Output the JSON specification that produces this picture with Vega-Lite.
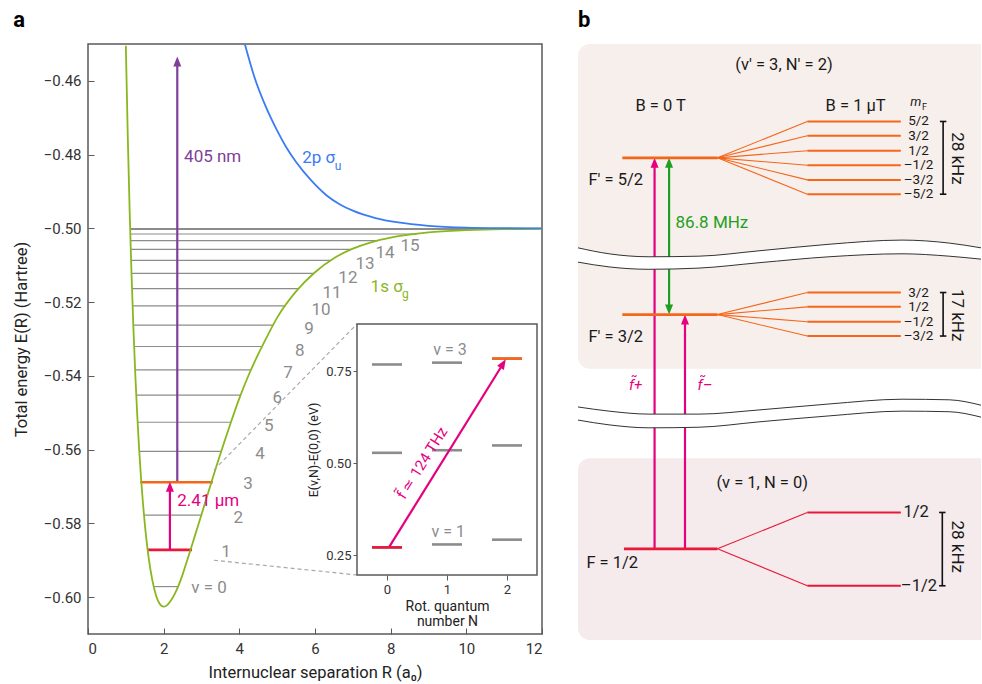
{
"$schema": "https://vega.github.io/schema/vega-lite/v6.json",
"padding": {"left": 12, "top": 8, "right": 0, "bottom": 0},
"background": "white",
"bounds": "flush",
"spacing": 36,
"config": {
  "font": "Roboto",
  "view": {"stroke": null},
  "axis": {"grid": false, "domain": false, "labelColor": "#333333", "titleColor": "#222222", "tickColor": "#5a5a5a", "titleFontWeight": "normal", "labelFont": "Roboto", "titleFont": "Roboto"},
  "text": {"font": "Roboto"},
  "title": {"font": "Roboto"}
},
"datasets": {
  "curve_g": [
    {"R":1.0,"E":-0.4505},{"R":1.05,"E":-0.4745},{"R":1.1,"E":-0.495},{"R":1.15,"E":-0.5123},{"R":1.2,"E":-0.527},{"R":1.25,"E":-0.5396},{"R":1.3,"E":-0.5504},{"R":1.35,"E":-0.5596},{"R":1.4,"E":-0.5675},{"R":1.45,"E":-0.5742},{"R":1.5,"E":-0.58},{"R":1.55,"E":-0.5849},{"R":1.6,"E":-0.5891},{"R":1.7,"E":-0.5954},{"R":1.8,"E":-0.5996},{"R":1.9,"E":-0.6019},{"R":2.0,"E":-0.6026},{"R":2.1,"E":-0.6021},{"R":2.2,"E":-0.6008},{"R":2.3,"E":-0.599},{"R":2.4,"E":-0.5967},{"R":2.5,"E":-0.5939},{"R":2.6,"E":-0.5907},{"R":2.7,"E":-0.5875},{"R":2.8,"E":-0.5842},{"R":2.9,"E":-0.5809},{"R":3.0,"E":-0.5776},{"R":3.2,"E":-0.5709},{"R":3.4,"E":-0.5643},{"R":3.6,"E":-0.558},{"R":3.8,"E":-0.5519},{"R":4.0,"E":-0.5461},{"R":4.25,"E":-0.5397},{"R":4.5,"E":-0.5341},{"R":4.75,"E":-0.529},{"R":5.0,"E":-0.5242},{"R":5.5,"E":-0.5171},{"R":6.0,"E":-0.5119},{"R":6.5,"E":-0.5081},{"R":7.0,"E":-0.5055},{"R":7.5,"E":-0.5037},{"R":8.0,"E":-0.5025},{"R":9.0,"E":-0.5011},{"R":10.0,"E":-0.5005},{"R":11.0,"E":-0.5002},{"R":12.0,"E":-0.5001}
  ],
  "curve_u": [
    {"R":4.15,"E":-0.4502},{"R":4.4,"E":-0.459},{"R":4.7,"E":-0.467},{"R":5.0,"E":-0.4735},{"R":5.24,"E":-0.478},{"R":5.5,"E":-0.482},{"R":5.9,"E":-0.487},{"R":6.3,"E":-0.491},{"R":6.66,"E":-0.4935},{"R":7.0,"E":-0.4952},{"R":7.6,"E":-0.4972},{"R":8.2,"E":-0.4984},{"R":9.0,"E":-0.4993},{"R":10.0,"E":-0.4998},{"R":11.0,"E":-0.49995},{"R":12.0,"E":-0.5}
  ],
  "levels": [
    {"v":0,"R1":1.741,"R2":2.38,"E":-0.59714},
    {"v":1,"R1":1.577,"R2":2.709,"E":-0.5872},
    {"v":2,"R1":1.481,"R2":2.995,"E":-0.57778},
    {"v":3,"R1":1.41,"R2":3.26,"E":-0.56886},
    {"v":4,"R1":1.355,"R2":3.52,"E":-0.56046},
    {"v":5,"R1":1.312,"R2":3.78,"E":-0.55257},
    {"v":6,"R1":1.276,"R2":4.035,"E":-0.5452},
    {"v":7,"R1":1.245,"R2":4.31,"E":-0.53836},
    {"v":8,"R1":1.22,"R2":4.6,"E":-0.53204},
    {"v":9,"R1":1.197,"R2":4.89,"E":-0.52626},
    {"v":10,"R1":1.18,"R2":5.22,"E":-0.52103},
    {"v":11,"R1":1.164,"R2":5.57,"E":-0.51635},
    {"v":12,"R1":1.15,"R2":5.97,"E":-0.51223},
    {"v":13,"R1":1.14,"R2":6.42,"E":-0.50868},
    {"v":14,"R1":1.13,"R2":6.96,"E":-0.50571},
    {"v":15,"R1":1.123,"R2":7.66,"E":-0.50332},
    {"v":16,"R1":1.118,"R2":8.7,"E":-0.50152},
    {"v":17,"R1":1.114,"R2":10.6,"E":-0.50031},
    {"v":18,"R1":1.113,"R2":12.0,"E":-0.50004}
  ],
  "vlabels": [
    {"R":3.2,"E":-0.5975,"t":"v = 0"},
    {"R":3.65,"E":-0.5878,"t":"1"},
    {"R":3.97,"E":-0.5785,"t":"2"},
    {"R":4.23,"E":-0.5693,"t":"3"},
    {"R":4.55,"E":-0.5612,"t":"4"},
    {"R":4.78,"E":-0.5536,"t":"5"},
    {"R":5.0,"E":-0.546,"t":"6"},
    {"R":5.29,"E":-0.5392,"t":"7"},
    {"R":5.6,"E":-0.5333,"t":"8"},
    {"R":5.84,"E":-0.5273,"t":"9"},
    {"R":6.16,"E":-0.5221,"t":"10"},
    {"R":6.45,"E":-0.5175,"t":"11"},
    {"R":6.87,"E":-0.5135,"t":"12"},
    {"R":7.32,"E":-0.5097,"t":"13"},
    {"R":7.85,"E":-0.5067,"t":"14"},
    {"R":8.51,"E":-0.5048,"t":"15"}
  ],
  "inset_lev": [
    {"N1":-0.25,"N2":0.25,"eV":0.271},{"N1":0.75,"N2":1.25,"eV":0.279},{"N1":1.75,"N2":2.25,"eV":0.292},
    {"N1":-0.25,"N2":0.25,"eV":0.528},{"N1":0.75,"N2":1.25,"eV":0.535},{"N1":1.75,"N2":2.25,"eV":0.548},
    {"N1":-0.25,"N2":0.25,"eV":0.768},{"N1":0.75,"N2":1.25,"eV":0.773},{"N1":1.75,"N2":2.25,"eV":0.784}
  ],
  "bands": [
    {"band":1,"x":0,"top":65.8,"bot":63.4},{"band":1,"x":7.7,"top":64.8,"bot":62.6},{"band":1,"x":17.6,"top":64.3,"bot":62.2},{"band":1,"x":30.0,"top":64.4,"bot":62.4},{"band":1,"x":44.9,"top":65.3,"bot":63.3},{"band":1,"x":62.3,"top":66.4,"bot":64.3},{"band":1,"x":80.4,"top":67.1,"bot":64.8},{"band":1,"x":92.1,"top":66.6,"bot":64.4},{"band":1,"x":100,"top":65.8,"bot":63.9},
    {"band":2,"x":0,"top":39.1,"bot":36.9},{"band":2,"x":7.7,"top":38.4,"bot":36.1},{"band":2,"x":17.6,"top":37.9,"bot":35.6},{"band":2,"x":30.0,"top":37.9,"bot":35.7},{"band":2,"x":44.9,"top":38.6,"bot":36.6},{"band":2,"x":62.3,"top":39.6,"bot":37.6},{"band":2,"x":80.4,"top":40.4,"bot":38.4},{"band":2,"x":92.1,"top":40.3,"bot":38.3},{"band":2,"x":100,"top":39.4,"bot":37.4}
  ],
  "b_levels": [
    {"m":"exc","x":11.0,"x2":34.6,"y":80.9},
    {"m":"exc","x":11.0,"x2":34.6,"y":54.6},
    {"m":"gnd","x":11.4,"x2":34.6,"y":15.3}
  ],
  "b_sub": [
    {"m":"exc","py":80.9,"y":87.0},{"m":"exc","py":80.9,"y":84.6},{"m":"exc","py":80.9,"y":82.1},{"m":"exc","py":80.9,"y":79.65},{"m":"exc","py":80.9,"y":77.2},{"m":"exc","py":80.9,"y":74.8},
    {"m":"exc","py":54.6,"y":58.3},{"m":"exc","py":54.6,"y":55.9},{"m":"exc","py":54.6,"y":53.4},{"m":"exc","py":54.6,"y":51.0},
    {"m":"gnd","py":15.3,"y":21.4},{"m":"gnd","py":15.3,"y":9.1}
  ],
  "b_mf": [
    {"y":87.0,"t":"5/2"},{"y":84.6,"t":"3/2"},{"y":82.1,"t":"1/2"},{"y":79.65,"t":"–1/2"},{"y":77.2,"t":"–3/2"},{"y":74.8,"t":"–5/2"},
    {"y":58.3,"t":"3/2"},{"y":55.9,"t":"1/2"},{"y":53.4,"t":"–1/2"},{"y":51.0,"t":"–3/2"}
  ],
  "b_brackets": [
    {"x":90.6,"y":74.8,"y2":87.0},{"x":90.6,"y":51.0,"y2":58.3},{"x":90.4,"y":9.1,"y2":21.4}
  ],
  "b_caps": [
    {"x":89.8,"x2":91.4,"y":74.8},{"x":89.8,"x2":91.4,"y":87.0},{"x":89.8,"x2":91.4,"y":51.0},{"x":89.8,"x2":91.4,"y":58.3},{"x":89.6,"x2":91.2,"y":9.1},{"x":89.6,"x2":91.2,"y":21.4}
  ],
  "b_text": [
    {"x":51.1,"y":96.5,"t":"(v' = 3, N' = 2)"},
    {"x":20.5,"y":89.6,"t":"B = 0 T"},
    {"x":68.9,"y":89.6,"t":"B = 1 μT"},
    {"x":9.35,"y":77.2,"t":"F' = 5/2"},
    {"x":9.35,"y":50.9,"t":"F' = 3/2"},
    {"x":45.7,"y":26.4,"t":"(v = 1, N = 0)"},
    {"x":8.5,"y":12.9,"t":"F = 1/2"},
    {"x":83.9,"y":21.4,"t":"1/2"},
    {"x":84.6,"y":9.1,"t":"–1/2"}
  ],
  "b_rot": [
    {"x":94.0,"y":80.8,"t":"28 kHz"},{"x":94.0,"y":54.5,"t":"17 kHz"},{"x":94.0,"y":15.65,"t":"28 kHz"}
  ]
},
"hconcat": [
{
  "width": 454, "height": 590,
  "title": {"text": "a", "anchor": "start", "frame": "bounds", "fontSize": 22, "fontWeight": "bold", "offset": 12, "color": "#000000"},
  "view": {"stroke": "#5a5a5a", "strokeWidth": 1.5},
  "resolve": {"scale": {"x": "independent", "y": "independent"}, "axis": {"x": "independent", "y": "independent"}},
  "layer": [
    {"layer": [
      {"data": {"name": "levels"}, "mark": {"type": "rule", "color": "#8c8c8c", "strokeWidth": 1.2},
       "encoding": {
         "x": {"field": "R1", "type": "quantitative", "scale": {"domain": [0, 12], "nice": false, "zero": false},
               "axis": {"title": "Internuclear separation R (a₀)", "values": [0,2,4,6,8,10,12], "format": "d", "tickSize": -6, "labelPadding": 13, "labelFontSize": 15, "titleFontSize": 16.5, "titlePadding": 8}},
         "x2": {"field": "R2"},
         "y": {"field": "E", "type": "quantitative", "scale": {"domain": [-0.61, -0.45], "nice": false, "zero": false},
               "axis": {"title": "Total energy E(R) (Hartree)", "values": [-0.46,-0.48,-0.5,-0.52,-0.54,-0.56,-0.58,-0.6], "format": ".2f", "tickSize": -6, "labelPadding": 13, "labelFontSize": 15, "titleFontSize": 16.5, "titlePadding": 14}}
       }},
      {"data": {"values": [{"R1":1.56,"R2":2.75,"E":-0.5872}]}, "mark": {"type": "rule", "color": "#e8183a", "strokeWidth": 2.6},
       "encoding": {"x": {"field": "R1", "type": "quantitative"}, "x2": {"field": "R2"}, "y": {"field": "E", "type": "quantitative"}}},
      {"data": {"values": [{"R1":1.38,"R2":3.3,"E":-0.56886}]}, "mark": {"type": "rule", "color": "#f5661a", "strokeWidth": 2.6},
       "encoding": {"x": {"field": "R1", "type": "quantitative"}, "x2": {"field": "R2"}, "y": {"field": "E", "type": "quantitative"}}},
      {"data": {"name": "curve_g"}, "mark": {"type": "line", "color": "#8ab71e", "strokeWidth": 1.8, "interpolate": "monotone", "clip": true},
       "encoding": {"x": {"field": "R", "type": "quantitative"}, "y": {"field": "E", "type": "quantitative"}}},
      {"data": {"name": "curve_u"}, "mark": {"type": "line", "color": "#3b7cf2", "strokeWidth": 1.8, "interpolate": "monotone", "clip": true},
       "encoding": {"x": {"field": "R", "type": "quantitative"}, "y": {"field": "E", "type": "quantitative"}}},
      {"data": {"values": [{"R1":3.33,"E1":-0.5655,"R2":7.11,"E2":-0.52593},{"R1":3.33,"E1":-0.59,"R2":7.11,"E2":-0.594}]},
       "mark": {"type": "rule", "color": "#a8a8a8", "strokeWidth": 1.2, "strokeDash": [4, 3]},
       "encoding": {"x": {"field": "R1", "type": "quantitative"}, "y": {"field": "E1", "type": "quantitative"}, "x2": {"field": "R2"}, "y2": {"field": "E2"}}},
      {"data": {"values": [{"R1":7.11,"R2":11.868,"E1":-0.52593,"E2":-0.594}]},
       "mark": {"type": "rect", "fill": "#ffffff", "stroke": "#5a5a5a", "strokeWidth": 1.5},
       "encoding": {"x": {"field": "R1", "type": "quantitative"}, "x2": {"field": "R2"}, "y": {"field": "E1", "type": "quantitative"}, "y2": {"field": "E2"}}},
      {"data": {"values": [{"R":2.36,"E1":-0.5685,"E2":-0.4552}]}, "mark": {"type": "rule", "color": "#7e3f98", "strokeWidth": 2.2},
       "encoding": {"x": {"field": "R", "type": "quantitative"}, "y": {"field": "E1", "type": "quantitative"}, "y2": {"field": "E2"}}},
      {"data": {"values": [{"R":2.36,"E":-0.4534}]}, "mark": {"type": "point", "shape": "M0,0L0.4,1L-0.4,1Z", "size": 400, "filled": true, "color": "#7e3f98", "opacity": 1},
       "encoding": {"x": {"field": "R", "type": "quantitative"}, "y": {"field": "E", "type": "quantitative"}}},
      {"data": {"values": [{"R":2.165,"E1":-0.5872,"E2":-0.5703}]}, "mark": {"type": "rule", "color": "#e5007e", "strokeWidth": 2.2},
       "encoding": {"x": {"field": "R", "type": "quantitative"}, "y": {"field": "E1", "type": "quantitative"}, "y2": {"field": "E2"}}},
      {"data": {"values": [{"R":2.165,"E":-0.5687}]}, "mark": {"type": "point", "shape": "M0,0L0.4,1L-0.4,1Z", "size": 400, "filled": true, "color": "#e5007e", "opacity": 1},
       "encoding": {"x": {"field": "R", "type": "quantitative"}, "y": {"field": "E", "type": "quantitative"}}},
      {"data": {"name": "vlabels"}, "mark": {"type": "text", "color": "#8c8c8c", "fontSize": 17, "align": "center", "baseline": "middle"},
       "encoding": {"x": {"field": "R", "type": "quantitative"}, "y": {"field": "E", "type": "quantitative"}, "text": {"field": "t"}}},
      {"data": {"values": [{"R":2.54,"E":-0.4806,"t":"405 nm"}]}, "mark": {"type": "text", "color": "#7e3f98", "fontSize": 17, "align": "left", "baseline": "middle"},
       "encoding": {"x": {"field": "R", "type": "quantitative"}, "y": {"field": "E", "type": "quantitative"}, "text": {"field": "t"}}},
      {"data": {"values": [{"R":2.36,"E":-0.5739,"t":"2.41 μm"}]}, "mark": {"type": "text", "color": "#e5007e", "fontSize": 17, "align": "left", "baseline": "middle"},
       "encoding": {"x": {"field": "R", "type": "quantitative"}, "y": {"field": "E", "type": "quantitative"}, "text": {"field": "t"}}},
      {"data": {"values": [{"R":5.66,"E":-0.4809,"t":"2p σ"}]}, "mark": {"type": "text", "color": "#3b7cf2", "fontSize": 17, "align": "left", "baseline": "middle"},
       "encoding": {"x": {"field": "R", "type": "quantitative"}, "y": {"field": "E", "type": "quantitative"}, "text": {"field": "t"}}},
      {"data": {"values": [{"R":6.52,"E":-0.4830,"t":"u"}]}, "mark": {"type": "text", "color": "#3b7cf2", "fontSize": 12, "align": "left", "baseline": "middle"},
       "encoding": {"x": {"field": "R", "type": "quantitative"}, "y": {"field": "E", "type": "quantitative"}, "text": {"field": "t"}}},
      {"data": {"values": [{"R":7.47,"E":-0.5158,"t":"1s σ"}]}, "mark": {"type": "text", "color": "#8ab71e", "fontSize": 17, "align": "left", "baseline": "middle"},
       "encoding": {"x": {"field": "R", "type": "quantitative"}, "y": {"field": "E", "type": "quantitative"}, "text": {"field": "t"}}},
      {"data": {"values": [{"R":8.3,"E":-0.5178,"t":"g"}]}, "mark": {"type": "text", "color": "#8ab71e", "fontSize": 12, "align": "left", "baseline": "middle"},
       "encoding": {"x": {"field": "R", "type": "quantitative"}, "y": {"field": "E", "type": "quantitative"}, "text": {"field": "t"}}}
    ]},
    {"layer": [
      {"data": {"name": "inset_lev"}, "mark": {"type": "rule", "color": "#8c8c8c", "strokeWidth": 2.6},
       "encoding": {
         "x": {"field": "N1", "type": "quantitative", "scale": {"domain": [-0.5, 2.5], "range": [269, 449], "nice": false, "zero": false},
               "axis": {"orient": "bottom", "offset": -59, "values": [0,1,2], "format": "d", "title": ["Rot. quantum", "number N"], "tickSize": 5, "labelPadding": 3, "labelFontSize": 13, "titleFontSize": 14, "titlePadding": 3, "titleLineHeight": 15}},
         "x2": {"field": "N2"},
         "y": {"field": "eV", "type": "quantitative", "scale": {"domain": [0.196, 0.878], "range": [531, 280], "nice": false, "zero": false},
               "axis": {"orient": "left", "offset": -269, "values": [0.25,0.5,0.75], "format": ".2f", "title": "E(v,N)-E(0,0) (eV)", "tickSize": 4, "labelPadding": 2, "labelFontSize": 13, "titleFontSize": 12.5, "titlePadding": 5}}
       }},
      {"data": {"values": [{"N1":-0.25,"N2":0.25,"eV":0.271}]}, "mark": {"type": "rule", "color": "#e8183a", "strokeWidth": 2.6},
       "encoding": {"x": {"field": "N1", "type": "quantitative"}, "x2": {"field": "N2"}, "y": {"field": "eV", "type": "quantitative"}}},
      {"data": {"values": [{"N1":1.75,"N2":2.25,"eV":0.784}]}, "mark": {"type": "rule", "color": "#f5661a", "strokeWidth": 2.6},
       "encoding": {"x": {"field": "N1", "type": "quantitative"}, "x2": {"field": "N2"}, "y": {"field": "eV", "type": "quantitative"}}},
      {"data": {"values": [{"N1":0.04,"e1":0.273,"N2":1.927,"e2":0.768}]}, "mark": {"type": "rule", "color": "#e5007e", "strokeWidth": 2.2},
       "encoding": {"x": {"field": "N1", "type": "quantitative"}, "y": {"field": "e1", "type": "quantitative"}, "x2": {"field": "N2"}, "y2": {"field": "e2"}}},
      {"data": {"values": [{"N1":1.98,"eV":0.782}]}, "mark": {"type": "point", "shape": "M0,0L0.4,1L-0.4,1Z", "size": 400, "filled": true, "color": "#e5007e", "opacity": 1, "angle": 32},
       "encoding": {"x": {"field": "N1", "type": "quantitative"}, "y": {"field": "eV", "type": "quantitative"}}},
      {"data": {"values": [{"N1":1.05,"eV":0.807,"t":"v = 3"},{"N1":1.02,"eV":0.313,"t":"v = 1"}]}, "mark": {"type": "text", "color": "#8c8c8c", "fontSize": 16, "align": "center", "baseline": "middle"},
       "encoding": {"x": {"field": "N1", "type": "quantitative"}, "y": {"field": "eV", "type": "quantitative"}, "text": {"field": "t"}}},
      {"data": {"values": [{"N1":0.585,"eV":0.5,"t":"f̃ ≃ 124 THz"}]}, "mark": {"type": "text", "color": "#e5007e", "fontSize": 15, "align": "center", "baseline": "middle", "angle": -58},
       "encoding": {"x": {"field": "N1", "type": "quantitative"}, "y": {"field": "eV", "type": "quantitative"}, "text": {"field": "t"}}}
    ]}
  ]
},
{
  "width": 403, "height": 596,
  "title": {"text": "b", "anchor": "start", "frame": "group", "fontSize": 22, "fontWeight": "bold", "offset": 12, "color": "#000000"},
  "view": {"stroke": null},
  "layer": [
    {"data": {"values": [{"x":0,"x2":100,"y":45.5,"y2":100}]}, "mark": {"type": "rect", "fill": "#f7efeb", "cornerRadiusTopLeft": 12, "cornerRadiusBottomLeft": 12},
     "encoding": {"x": {"field": "x", "type": "quantitative", "scale": {"domain": [0, 100], "nice": false, "zero": false}, "axis": null}, "x2": {"field": "x2"},
                  "y": {"field": "y", "type": "quantitative", "scale": {"domain": [0, 100], "nice": false, "zero": false}, "axis": null}, "y2": {"field": "y2"}}},
    {"data": {"values": [{"x":0,"x2":100,"y":0,"y2":30.5}]}, "mark": {"type": "rect", "fill": "#f5eaec", "cornerRadiusTopLeft": 12, "cornerRadiusBottomLeft": 12},
     "encoding": {"x": {"field": "x", "type": "quantitative"}, "x2": {"field": "x2"}, "y": {"field": "y", "type": "quantitative"}, "y2": {"field": "y2"}}},
    {"data": {"values": [{"x":19.0,"y":15.3,"y2":79.9},{"x":26.55,"y":15.3,"y2":53.6}]}, "mark": {"type": "rule", "color": "#e5007e", "strokeWidth": 2.2},
     "encoding": {"x": {"field": "x", "type": "quantitative"}, "y": {"field": "y", "type": "quantitative"}, "y2": {"field": "y2"}}},
    {"data": {"values": [{"x":22.6,"y":55.6,"y2":79.9}]}, "mark": {"type": "rule", "color": "#1f9f1f", "strokeWidth": 2.2},
     "encoding": {"x": {"field": "x", "type": "quantitative"}, "y": {"field": "y", "type": "quantitative"}, "y2": {"field": "y2"}}},
    {"data": {"name": "bands"}, "mark": {"type": "area", "color": "#ffffff", "opacity": 1, "interpolate": "monotone"},
     "encoding": {"x": {"field": "x", "type": "quantitative"}, "y": {"field": "top", "type": "quantitative"}, "y2": {"field": "bot"}, "detail": {"field": "band", "type": "nominal"}}},
    {"data": {"name": "bands"}, "mark": {"type": "line", "color": "#333333", "strokeWidth": 1, "interpolate": "monotone"},
     "encoding": {"x": {"field": "x", "type": "quantitative"}, "y": {"field": "top", "type": "quantitative"}, "detail": {"field": "band", "type": "nominal"}}},
    {"data": {"name": "bands"}, "mark": {"type": "line", "color": "#333333", "strokeWidth": 1, "interpolate": "monotone"},
     "encoding": {"x": {"field": "x", "type": "quantitative"}, "y": {"field": "bot", "type": "quantitative"}, "detail": {"field": "band", "type": "nominal"}}},
    {"data": {"values": [{"x":19.0,"y":80.9},{"x":26.55,"y":54.6}]}, "mark": {"type": "point", "shape": "M0,0L0.4,1L-0.4,1Z", "size": 400, "filled": true, "color": "#e5007e", "opacity": 1},
     "encoding": {"x": {"field": "x", "type": "quantitative"}, "y": {"field": "y", "type": "quantitative"}}},
    {"data": {"values": [{"x":22.6,"y":80.9}]}, "mark": {"type": "point", "shape": "M0,0L0.4,1L-0.4,1Z", "size": 400, "filled": true, "color": "#1f9f1f", "opacity": 1},
     "encoding": {"x": {"field": "x", "type": "quantitative"}, "y": {"field": "y", "type": "quantitative"}}},
    {"data": {"values": [{"x":22.6,"y":54.6}]}, "mark": {"type": "point", "shape": "M0,0L0.4,1L-0.4,1Z", "size": 400, "filled": true, "color": "#1f9f1f", "opacity": 1, "angle": 180},
     "encoding": {"x": {"field": "x", "type": "quantitative"}, "y": {"field": "y", "type": "quantitative"}}},
    {"data": {"name": "b_sub"}, "transform": [{"filter": "datum.m == 'exc'"}], "mark": {"type": "rule", "color": "#f5661a", "strokeWidth": 1.1},
     "encoding": {"x": {"datum": 34.6, "type": "quantitative"}, "y": {"field": "py", "type": "quantitative"}, "x2": {"datum": 56.9}, "y2": {"field": "y"}}},
    {"data": {"name": "b_sub"}, "transform": [{"filter": "datum.m == 'gnd'"}], "mark": {"type": "rule", "color": "#e8183a", "strokeWidth": 1.1},
     "encoding": {"x": {"datum": 34.6, "type": "quantitative"}, "y": {"field": "py", "type": "quantitative"}, "x2": {"datum": 56.9}, "y2": {"field": "y"}}},
    {"data": {"name": "b_sub"}, "transform": [{"filter": "datum.m == 'exc'"}], "mark": {"type": "rule", "color": "#f5661a", "strokeWidth": 2},
     "encoding": {"x": {"datum": 56.9, "type": "quantitative"}, "x2": {"datum": 80.1}, "y": {"field": "y", "type": "quantitative"}}},
    {"data": {"name": "b_sub"}, "transform": [{"filter": "datum.m == 'gnd'"}], "mark": {"type": "rule", "color": "#e8183a", "strokeWidth": 2},
     "encoding": {"x": {"datum": 56.9, "type": "quantitative"}, "x2": {"datum": 80.1}, "y": {"field": "y", "type": "quantitative"}}},
    {"data": {"name": "b_levels"}, "transform": [{"filter": "datum.m == 'exc'"}], "mark": {"type": "rule", "color": "#f5661a", "strokeWidth": 2.8},
     "encoding": {"x": {"field": "x", "type": "quantitative"}, "x2": {"field": "x2"}, "y": {"field": "y", "type": "quantitative"}}},
    {"data": {"name": "b_levels"}, "transform": [{"filter": "datum.m == 'gnd'"}], "mark": {"type": "rule", "color": "#e8183a", "strokeWidth": 2.8},
     "encoding": {"x": {"field": "x", "type": "quantitative"}, "x2": {"field": "x2"}, "y": {"field": "y", "type": "quantitative"}}},
    {"data": {"name": "b_brackets"}, "mark": {"type": "rule", "color": "#111111", "strokeWidth": 1.6},
     "encoding": {"x": {"field": "x", "type": "quantitative"}, "y": {"field": "y", "type": "quantitative"}, "y2": {"field": "y2"}}},
    {"data": {"name": "b_caps"}, "mark": {"type": "rule", "color": "#111111", "strokeWidth": 1.6},
     "encoding": {"x": {"field": "x", "type": "quantitative"}, "x2": {"field": "x2"}, "y": {"field": "y", "type": "quantitative"}}},
    {"data": {"name": "b_text"}, "mark": {"type": "text", "color": "#1a1a1a", "fontSize": 16.5, "align": "center", "baseline": "middle"},
     "encoding": {"x": {"field": "x", "type": "quantitative"}, "y": {"field": "y", "type": "quantitative"}, "text": {"field": "t"}}},
    {"data": {"name": "b_mf"}, "mark": {"type": "text", "color": "#1a1a1a", "fontSize": 13.5, "align": "center", "baseline": "middle"},
     "encoding": {"x": {"datum": 84.5, "type": "quantitative"}, "y": {"field": "y", "type": "quantitative"}, "text": {"field": "t"}}},
    {"data": {"name": "b_rot"}, "mark": {"type": "text", "color": "#1a1a1a", "fontSize": 17, "align": "center", "baseline": "middle", "angle": 90},
     "encoding": {"x": {"field": "x", "type": "quantitative"}, "y": {"field": "y", "type": "quantitative"}, "text": {"field": "t"}}},
    {"data": {"values": [{"x":83.8,"y":90.2,"t":"m"}]}, "mark": {"type": "text", "color": "#1a1a1a", "fontSize": 13, "fontStyle": "italic", "align": "center", "baseline": "middle"},
     "encoding": {"x": {"field": "x", "type": "quantitative"}, "y": {"field": "y", "type": "quantitative"}, "text": {"field": "t"}}},
    {"data": {"values": [{"x":86.0,"y":89.4,"t":"F"}]}, "mark": {"type": "text", "color": "#1a1a1a", "fontSize": 9, "align": "center", "baseline": "middle"},
     "encoding": {"x": {"field": "x", "type": "quantitative"}, "y": {"field": "y", "type": "quantitative"}, "text": {"field": "t"}}},
    {"data": {"values": [{"x":24.2,"y":70.0,"t":"86.8 MHz"}]}, "mark": {"type": "text", "color": "#1f9f1f", "fontSize": 17, "align": "left", "baseline": "middle"},
     "encoding": {"x": {"field": "x", "type": "quantitative"}, "y": {"field": "y", "type": "quantitative"}, "text": {"field": "t"}}},
    {"data": {"values": [{"x":14.3,"y":42.8,"t":"f̃+"},{"x":31.5,"y":42.8,"t":"f̃–"}]}, "mark": {"type": "text", "color": "#e5007e", "fontSize": 15, "fontStyle": "italic", "align": "center", "baseline": "middle"},
     "encoding": {"x": {"field": "x", "type": "quantitative"}, "y": {"field": "y", "type": "quantitative"}, "text": {"field": "t"}}}
  ]
}
]
}
